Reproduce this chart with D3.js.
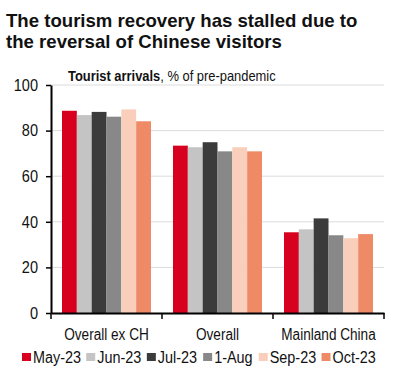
<!DOCTYPE html>
<html>
<head>
<meta charset="utf-8">
<script src="https://cdn.jsdelivr.net/npm/d3@7"></script>
<style>
  body { margin: 0; background: #fff; }
  svg text { font-family: "Liberation Sans", Arial, sans-serif; }
</style>
</head>
<body>
<div id="chart"></div>
<script>
// chart data
let categories = ["Overall ex CH", "Overall", "Mainland China"];
let seriesNames = ["May-23", "Jun-23", "Jul-23", "1-Aug", "Sep-23", "Oct-23"];
let seriesColors = ["#d7001e", "#c4c4c4", "#3b3b3b", "#888888", "#f9cfbb", "#ef8a67"];
let may23 = [88.7, 73.4, 35.4];
let jun23 = [86.8, 72.7, 36.7];
let jul23 = [88.2, 74.9, 41.5];
let aug23 = [86.1, 70.9, 34.1];
let sep23 = [89.3, 72.7, 32.8];
let oct23 = [84.1, 70.9, 34.6];
let yTicks = [0, 20, 40, 60, 80, 100];

let seriesValues = [may23, jun23, jul23, aug23, sep23, oct23];

// squeeze a text horizontally to mimic the narrow font of the original
function condense(sel, factor) {
  sel.each(function() {
    let len = this.getComputedTextLength();
    d3.select(this).attr("textLength", len * factor).attr("lengthAdjust", "spacingAndGlyphs");
  });
}

let svgWidth = 396;
let svgHeight = 375;

let margin = { top: 85, right: 12, bottom: 62, left: 51 };
let width = svgWidth - margin.left - margin.right;
let height = svgHeight - margin.top - margin.bottom;

let svg = d3.select("#chart")
  .append("svg")
  .attr("width", svgWidth)
  .attr("height", svgHeight);

// title
let title = svg.append("text")
  .attr("font-size", "18.6px")
  .attr("font-weight", "bold")
  .attr("fill", "#111");
title.append("tspan").attr("x", 6).attr("y", 27).text("The tourism recovery has stalled due to");
title.append("tspan").attr("x", 6).attr("y", 48).text("the reversal of Chinese visitors");

let chartGroup = svg.append("g")
  .attr("transform", `translate(${margin.left}, ${margin.top})`);

let x0 = d3.scaleBand()
  .domain(categories)
  .range([0, width]);

let x1 = d3.scaleBand()
  .domain(seriesNames)
  .range([11, x0.bandwidth() - 11]);

let y = d3.scaleLinear()
  .domain([0, 100])
  .range([height, 0]);

// gridlines
chartGroup.selectAll(".grid")
  .data(yTicks.filter(d => d > 0))
  .enter().append("line")
  .attr("x1", 0)
  .attr("x2", width)
  .attr("y1", d => y(d))
  .attr("y2", d => y(d))
  .attr("stroke", "#dcdcdc")
  .attr("stroke-width", 1);

// subtitle (one text, bold run + regular run)
let sub = chartGroup.append("text")
  .attr("x", 17)
  .attr("y", -4)
  .attr("font-size", "15px")
  .attr("fill", "#111");
sub.append("tspan").attr("font-weight", "bold").text("Tourist arrivals");
sub.append("tspan").text(", % of pre-pandemic");
condense(sub, 0.86);

// bars
let groups = chartGroup.selectAll(".cat")
  .data(categories)
  .enter().append("g")
  .attr("transform", d => `translate(${x0(d)},0)`);

groups.selectAll("rect")
  .data((c, ci) => seriesNames.map((s, si) => ({ s: s, v: seriesValues[si][ci], color: seriesColors[si] })))
  .enter().append("rect")
  .attr("x", d => x1(d.s))
  .attr("width", x1.bandwidth())
  .attr("y", d => y(d.v))
  .attr("height", d => height - y(d.v))
  .attr("fill", d => d.color);

// y axis
let leftAxis = d3.axisLeft(y).tickValues(yTicks).tickSize(5).tickSizeOuter(0);
let yAxis = chartGroup.append("g").call(leftAxis);
yAxis.select(".domain").attr("stroke", "#000").attr("stroke-width", 2);
yAxis.selectAll(".tick line").attr("stroke", "#000").attr("stroke-width", 1.5);
yAxis.selectAll(".tick text")
  .attr("x", -13)
  .attr("font-size", "16.5px")
  .attr("fill", "#111");
condense(yAxis.selectAll(".tick text"), 0.88);

// x axis
let bottomAxis = d3.axisBottom(x0).tickSize(0).tickSizeOuter(0);
let xAxis = chartGroup.append("g")
  .attr("transform", `translate(0, ${height})`)
  .call(bottomAxis);
xAxis.select(".domain").attr("stroke", "#000").attr("stroke-width", 2);
xAxis.selectAll(".tick text")
  .attr("y", 16)
  .attr("font-size", "16px")
  .attr("fill", "#111");
condense(xAxis.selectAll(".tick text"), 0.85);

// category separator ticks
chartGroup.selectAll(".sep")
  .data(d3.range(categories.length + 1))
  .enter().append("line")
  .attr("x1", i => i * x0.step())
  .attr("x2", i => i * x0.step())
  .attr("y1", height)
  .attr("y2", height + 6)
  .attr("stroke", "#000")
  .attr("stroke-width", 1.5);

// legend
let legend = svg.append("g").attr("transform", "translate(22, 363)");
let lx = 0;
seriesNames.forEach(function(name, i) {
  legend.append("rect")
    .attr("x", lx)
    .attr("y", -10)
    .attr("width", 9)
    .attr("height", 8)
    .attr("fill", seriesColors[i]);
  let t = legend.append("text")
    .attr("x", lx + 11)
    .attr("y", 0)
    .attr("font-size", "16px")
    .attr("fill", "#111")
    .text(name);
  condense(t, 0.9);
  lx += 11 + t.node().getComputedTextLength() * 0.9 + 10;
});
</script>
</body>
</html>
